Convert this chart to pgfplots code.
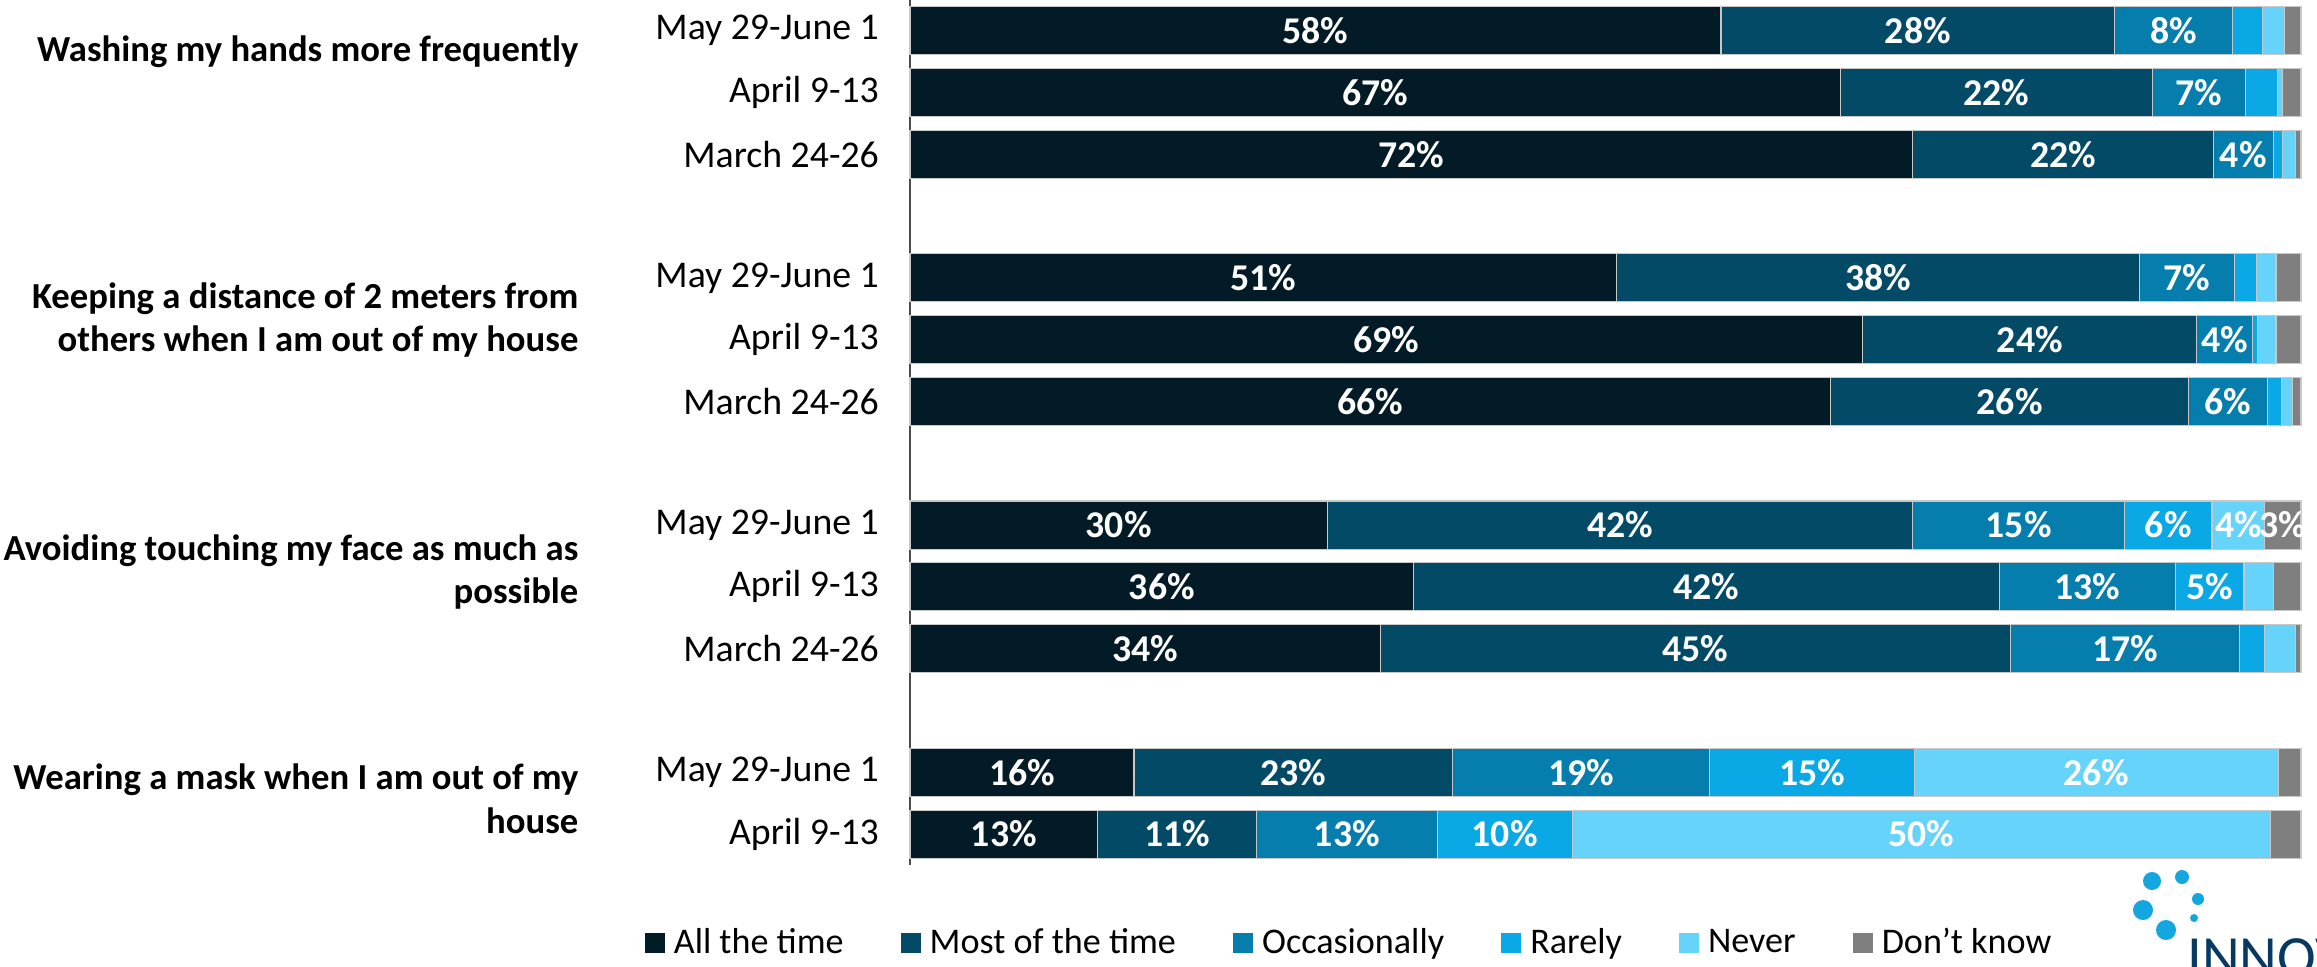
\documentclass[border=0pt]{standalone}
\usepackage{fontspec}
\setmainfont{Carlito}
\usepackage{pgfplots}
\usepackage{pgfplotstable}
\pgfplotsset{compat=1.18}
\definecolor{c1}{HTML}{031B26}
\definecolor{c2}{HTML}{034A67}
\definecolor{c3}{HTML}{067EAD}
\definecolor{c4}{HTML}{0AA8E5}
\definecolor{c5}{HTML}{66D3FA}
\definecolor{c6}{HTML}{7F7F7F}
\definecolor{edge}{HTML}{C8C8C8}
\definecolor{logoblue}{HTML}{14A6DF}
\definecolor{logonavy}{HTML}{073A63}

\pgfplotstableread{
pos all most occ rare never dk lall lmost locc lrare lnever ldk
0 58.3 28.3 8.5 2.1 1.6 1.2 58\% 28\% 8\% {} {} {}
1 66.9 22.4 6.7 2.3 0.4 1.3 67\% 22\% 7\% {} {} {}
2 72.1 21.6 4.3 0.7 0.9 0.4 72\% 22\% 4\% {} {} {}
4 50.8 37.6 6.8 1.6 1.4 1.8 51\% 38\% 7\% {} {} {}
5 68.5 24.0 4.0 0.4 1.3 1.8 69\% 24\% 4\% {} {} {}
6 66.2 25.7 5.7 1.0 0.8 0.6 66\% 26\% 6\% {} {} {}
8 30.0 42.1 15.2 6.3 3.8 2.6 30\% 42\% 15\% 6\% 4\% 3\%
9 36.2 42.1 12.7 4.9 2.1 2.0 36\% 42\% 13\% 5\% {} {}
10 33.8 45.3 16.5 1.8 2.2 0.4 34\% 45\% 17\% {} {} {}
12 16.1 22.9 18.5 14.7 26.2 1.6 16\% 23\% 19\% 15\% 26\% {}
13 13.5 11.4 13.0 9.7 50.2 2.2 13\% 11\% 13\% 10\% 50\% {}
}\data

\pgfplotsset{base/.style={
  at={(327.6pt,0pt)}, anchor=north west, scale only axis,
  width=500.76pt, height=311.4pt,
  xmin=0, xmax=100, ymin=-0.494, ymax=13.5, y dir=reverse,
}}

\newcommand\datefont{\fontsize{13.6}{16}\selectfont}
\newcommand\grpfont{\fontsize{13.2}{15.6}\selectfont}
\newcommand\legfont{\fontsize{13}{15}\selectfont}
\newcommand\pctfont{\fontsize{13.6}{16}\selectfont}

\begin{document}
\begin{tikzpicture}
\useasboundingbox (0pt,0pt) rectangle (834.12pt,-347.76pt);
\clip (0pt,0pt) rectangle (834.12pt,-347.76pt);

\begin{axis}[base, xbar stacked, bar width=0.777,
  axis x line=none, axis y line*=left,
  axis line style={black!70, line width=0.6pt, -},
  xtick=\empty,
  ytick={0,1,2,4,5,6,8,9,10,12,13},
  yticklabels={May 29-June 1, April 9-13, March 24-26, May 29-June 1, April 9-13, March 24-26, May 29-June 1, April 9-13, March 24-26, May 29-June 1, April 9-13},
  major tick length=0pt,
  yticklabel style={font=\datefont, inner sep=0pt, xshift=-11pt},
  clip=false,
  legend columns=6,
  legend style={draw=none, fill=none, font=\legfont,
    at={(axis description cs:0.317,-0.0897)}, anchor=center,
    /tikz/every even column/.append style={column sep=18.6pt}},
  legend image code/.code={\draw[#1, draw=none] (0pt,-3.6pt) rectangle (7.2pt,3.6pt); \path (8.2pt,0pt);},
]
\addplot[fill=c1, draw=edge, line width=0.4pt] table[x=all, y=pos] {\data};
\addlegendentry{All the time}
\addplot[fill=c2, draw=edge, line width=0.4pt] table[x=most, y=pos] {\data};
\addlegendentry{Most of the time}
\addplot[fill=c3, draw=edge, line width=0.4pt] table[x=occ, y=pos] {\data};
\addlegendentry{Occasionally}
\addplot[fill=c4, draw=edge, line width=0.4pt] table[x=rare, y=pos] {\data};
\addlegendentry{Rarely}
\addplot[fill=c5, draw=edge, line width=0.4pt] table[x=never, y=pos] {\data};
\addlegendentry{Never}
\addplot[fill=c6, draw=edge, line width=0.4pt] table[x=dk, y=pos] {\data};
\addlegendentry{Don’t know}

\node[anchor=east, align=right, font=\bfseries\grpfont, inner sep=0pt] at (axis cs:-23.8,0.35) {Washing my hands more frequently};
\node[anchor=east, align=right, font=\bfseries\grpfont, inner sep=0pt] at (axis cs:-23.8,4.68) {Keeping a distance of 2 meters from\\others when I am out of my house};
\node[anchor=east, align=right, font=\bfseries\grpfont, inner sep=0pt] at (axis cs:-23.8,8.76) {Avoiding touching my face as much as\\possible};
\node[anchor=east, align=right, font=\bfseries\grpfont, inner sep=0pt] at (axis cs:-23.8,12.43) {Wearing a mask when I am out of my\\house};
\end{axis}

\begin{axis}[base, hide axis, clip=false,
  nodes near coords={\pgfplotspointmeta}, point meta=explicit symbolic,
  every node near coord/.append style={anchor=center, text=white, font=\bfseries\pctfont, inner sep=0pt},
]
\addplot[only marks, mark=*, mark size=0pt, mark options={draw=none, fill=none}] table[x expr=\thisrow{all}/2, y=pos, meta=lall] {\data};
\addplot[only marks, mark=*, mark size=0pt, mark options={draw=none, fill=none}] table[x expr=\thisrow{all}+\thisrow{most}/2, y=pos, meta=lmost] {\data};
\addplot[only marks, mark=*, mark size=0pt, mark options={draw=none, fill=none}] table[x expr=\thisrow{all}+\thisrow{most}+\thisrow{occ}/2, y=pos, meta=locc] {\data};
\addplot[only marks, mark=*, mark size=0pt, mark options={draw=none, fill=none}] table[x expr=\thisrow{all}+\thisrow{most}+\thisrow{occ}+\thisrow{rare}/2, y=pos, meta=lrare] {\data};
\addplot[only marks, mark=*, mark size=0pt, mark options={draw=none, fill=none}] table[x expr=\thisrow{all}+\thisrow{most}+\thisrow{occ}+\thisrow{rare}+\thisrow{never}/2, y=pos, meta=lnever] {\data};
\addplot[only marks, mark=*, mark size=0pt, mark options={draw=none, fill=none}] table[x expr=\thisrow{all}+\thisrow{most}+\thisrow{occ}+\thisrow{rare}+\thisrow{never}+\thisrow{dk}/2, y=pos, meta=ldk] {\data};
\end{axis}

\begin{scope}[x=0.36pt, y=-0.36pt]
\fill[logoblue] (2152,881) circle[radius=9];
\fill[logoblue] (2182,877) circle[radius=7];
\fill[logoblue] (2143,910) circle[radius=10];
\fill[logoblue] (2198,899) circle[radius=6];
\fill[logoblue] (2194,918) circle[radius=4];
\fill[logoblue] (2166,930) circle[radius=10];
\node[anchor=base west, inner sep=0pt, text=logonavy, font=\fontsize{21}{21}\selectfont] at (2187,976) {INNOV};
\end{scope}
\end{tikzpicture}
\end{document}
